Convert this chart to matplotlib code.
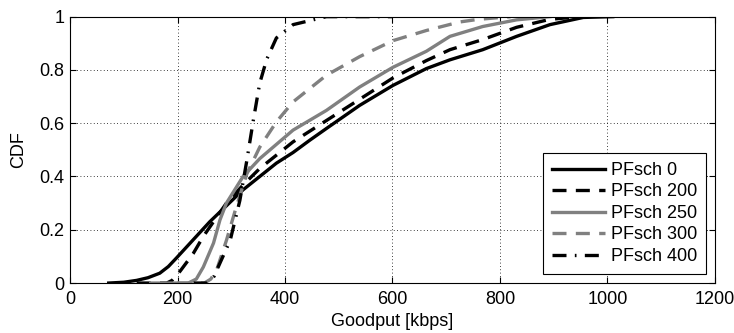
import matplotlib
matplotlib.use("Agg")
import matplotlib.pyplot as plt

plt.rcParams["font.family"] = ["Liberation Sans", "DejaVu Sans"]

# Goodput [kbps] / CDF pairs
x_pf0 = [72, 100, 124, 145, 167, 183, 198, 229, 260, 291, 322, 353, 384, 415, 446, 477,
         539, 601, 663, 707, 768, 831, 893, 955, 1010]
y_pf0 = [0.0, 0.003, 0.01, 0.02, 0.037, 0.062, 0.094, 0.162, 0.23, 0.29, 0.35, 0.40, 0.45,
         0.49, 0.536, 0.58, 0.667, 0.742, 0.805, 0.838, 0.876, 0.926, 0.97, 0.997, 1.0]

x_pf200 = [124, 180, 190, 205, 229, 248, 291, 322, 353, 415, 477, 539, 601, 663, 707, 768,
           831, 893, 950]
y_pf200 = [0.0, 0.0, 0.01, 0.045, 0.11, 0.175, 0.30, 0.368, 0.43, 0.53, 0.61, 0.69, 0.77,
           0.835, 0.876, 0.914, 0.96, 0.99, 1.0]

x_pf250 = [150, 220, 235, 248, 267, 279, 291, 322, 353, 415, 477, 539, 601, 663, 707, 768,
           831, 893]
y_pf250 = [0.0, 0.0, 0.015, 0.06, 0.15, 0.237, 0.30, 0.40, 0.467, 0.574, 0.648, 0.736,
           0.81, 0.87, 0.926, 0.963, 0.988, 1.0]

x_pf300 = [200, 250, 262, 273, 291, 310, 329, 353, 384, 415, 477, 539, 601, 663, 725, 760,
           820]
y_pf300 = [0.0, 0.0, 0.015, 0.05, 0.16, 0.29, 0.41, 0.51, 0.605, 0.68, 0.78, 0.85, 0.91,
           0.948, 0.98, 0.99, 1.0]

x_pf400 = [230, 255, 268, 279, 298, 316, 329, 341, 353, 366, 384, 415, 446, 477, 600]
y_pf400 = [0.0, 0.0, 0.025, 0.075, 0.16, 0.31, 0.46, 0.61, 0.75, 0.84, 0.92, 0.97, 0.985,
           1.0, 1.0]

labels = ["PFsch 0", "PFsch 200", "PFsch 250", "PFsch 300", "PFsch 400"]

fig = plt.figure(figsize=(7.34, 3.33), dpi=100)
ax = fig.add_axes([0.0954, 0.150, 0.8786, 0.800])

gray = "#808080"
lw = 2.4
dash = (0, (4.2, 2.8))
dashdot = (0, (4.2, 2.5, 0.5, 2.5))
ax.plot(x_pf0, y_pf0, color="black", lw=lw, ls="-", label=labels[0])
ax.plot(x_pf200, y_pf200, color="black", lw=lw, ls=dash, label=labels[1])
ax.plot(x_pf250, y_pf250, color=gray, lw=lw, ls="-", label=labels[2])
ax.plot(x_pf300, y_pf300, color=gray, lw=lw, ls=dash, label=labels[3])
ax.plot(x_pf400, y_pf400, color="black", lw=lw, ls=dashdot, label=labels[4])

ax.set_xlim(0, 1200)
ax.set_ylim(0, 1)
ax.set_xticks([0, 200, 400, 600, 800, 1000, 1200])
ax.set_yticks([0, 0.2, 0.4, 0.6, 0.8, 1])
ax.set_yticklabels(["0", "0.2", "0.4", "0.6", "0.8", "1"])
ax.grid(True, color="black", ls=(0, (1, 3)), lw=0.6)
ax.tick_params(direction="in", length=4, labelsize=13, top=True, right=True, width=0.8,
               pad=4)
ax.tick_params(axis="x", pad=6)
for s in ax.spines.values():
    s.set_color("black")
    s.set_linewidth(0.8)

ax.set_xlabel("Goodput [kbps]", fontsize=13, labelpad=3)
ax.set_ylabel("CDF", fontsize=13, labelpad=9)

leg = ax.legend(loc="lower right", fontsize=13, frameon=True, fancybox=False,
                edgecolor="black", framealpha=1, handlelength=2.95, handletextpad=0.3,
                labelspacing=0.25, borderpad=0.5, borderaxespad=0.5)
leg.get_frame().set_linewidth(0.8)

fig.savefig("out.png", dpi=100)
